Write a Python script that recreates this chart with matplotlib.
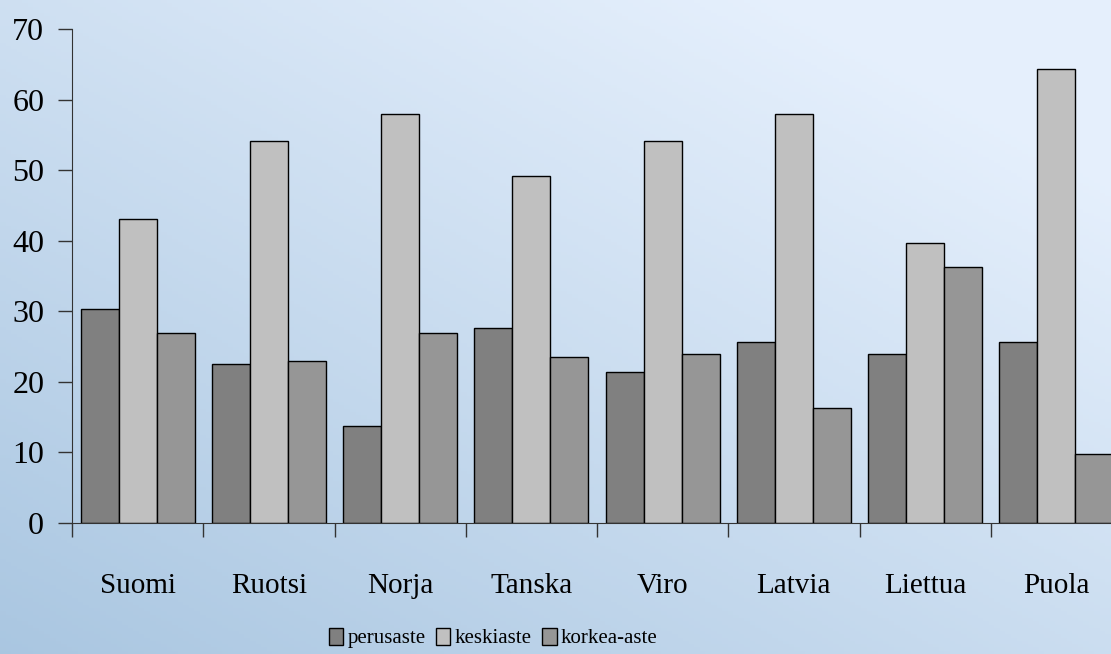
import numpy as np
import matplotlib.pyplot as plt
from matplotlib.patches import Patch

# Data
maat = ['Suomi', 'Ruotsi', 'Norja', 'Tanska', 'Viro', 'Latvia', 'Liettua', 'Puola']
perusaste = [30.3, 22.6, 13.7, 27.7, 21.4, 25.6, 23.9, 25.6]
keskiaste = [43.1, 54.2, 58.0, 49.1, 54.2, 58.0, 39.7, 64.4]
korkea_aste = [26.9, 23.0, 26.9, 23.5, 23.9, 16.3, 36.3, 9.8]
sarjat = ['perusaste', 'keskiaste', 'korkea-aste']
y_ticks = [0, 10, 20, 30, 40, 50, 60, 70]

varit = ['#808080', '#c0c0c0', '#969696']
plt.rcParams['font.family'] = ['Liberation Serif', 'DejaVu Serif']

fig = plt.figure(figsize=(11.11, 6.54), dpi=100)

# light blue background (gradient instead of the marble picture)
bg = fig.add_axes([0, 0, 1, 1], zorder=-10)
gx, gy = np.meshgrid(np.linspace(0, 1, 200), np.linspace(0, 1, 200))
mix = np.clip(0.5 * gx + 0.55 * (1 - gy) + 0.1, 0, 1)[..., None]
dark = np.array([0.64, 0.76, 0.87])
light = np.array([0.90, 0.94, 0.99])
bg.imshow(dark * (1 - mix) + light * mix, aspect='auto', extent=[0, 1, 0, 1])
bg.axis('off')

ax = fig.add_axes([72 / 1111, (654 - 523) / 654, 1050 / 1111, 494 / 654])
ax.patch.set_alpha(0)

x = np.arange(len(maat))
w = 0.29
for i, (vals, c) in enumerate(zip([perusaste, keskiaste, korkea_aste], varit)):
    ax.bar(x + (i - 1) * w, vals, w, color=c, edgecolor='black', linewidth=1)

ax.set_xlim(-0.5, len(maat) - 0.5)
ax.set_ylim(0, 70)
ax.set_yticks(y_ticks)
ax.tick_params(axis='y', labelsize=23, length=10, width=1, pad=10, color='#333333')
ax.set_xticks(x)
ax.set_xticklabels(maat, fontsize=21)
ax.tick_params(axis='x', which='major', length=0, pad=36)
ax.set_xticks(np.arange(len(maat) + 1) - 0.5, minor=True)
ax.tick_params(axis='x', which='minor', length=10, width=1, color='#333333')

for s in ['top', 'right']:
    ax.spines[s].set_visible(False)
for s in ['left', 'bottom']:
    ax.spines[s].set_color('#333333')

handles = [Patch(facecolor=c, edgecolor='black', linewidth=1) for c in varit]
fig.legend(handles, sarjat, loc='center', bbox_to_anchor=(493 / 1111, 1 - 638 / 654),
           ncol=3, frameon=False, fontsize=15, handlelength=0.7, handleheight=0.9,
           handletextpad=0.2, columnspacing=0.5)

fig.savefig('out.png', dpi=100)
